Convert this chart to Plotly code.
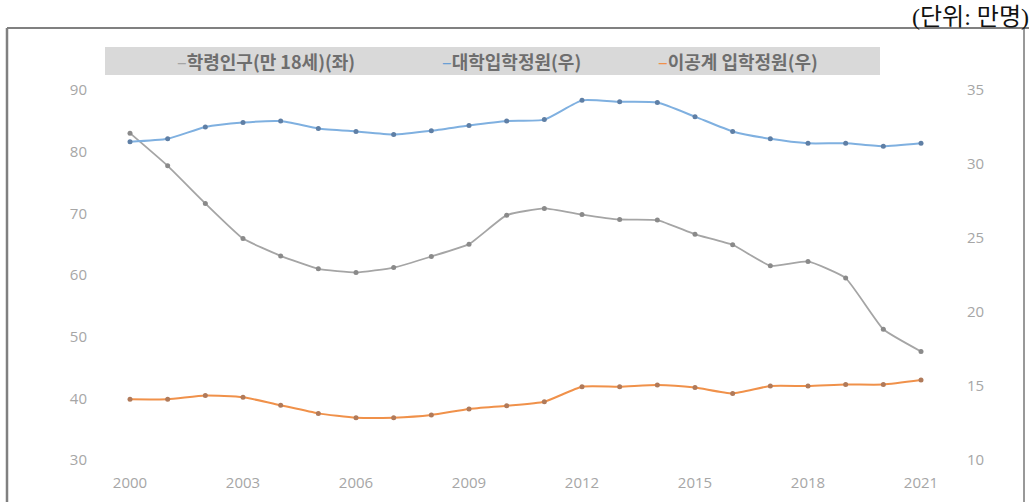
import plotly.graph_objects as go

years = list(range(2000, 2022))
pop18 = [83.0, 77.7, 71.6, 65.9, 63.1, 61.0, 60.4, 61.2, 63.0, 65.0, 69.7, 70.8,
         69.8, 69.0, 68.9, 66.6, 64.9, 61.5, 62.2, 59.5, 51.2, 47.6]
univ_quota = [31.5, 31.7, 32.5, 32.8, 32.9, 32.4, 32.2, 32.0, 32.25, 32.6, 32.9, 33.0,
              34.3, 34.2, 34.15, 33.2, 32.2, 31.7, 31.4, 31.4, 31.2, 31.4]
stem_quota = [14.1, 14.1, 14.35, 14.24, 13.7, 13.15, 12.86, 12.86, 13.04, 13.45, 13.67, 13.94,
              14.95, 14.95, 15.07, 14.9, 14.5, 15.0, 15.0, 15.1, 15.1, 15.4]
x_ticks = [2000, 2003, 2006, 2009, 2012, 2015, 2018, 2021]
names = ["학령인구(만 18세)(좌)", "대학입학정원(우)", "이공계 입학정원(우)"]
unit_label = "(단위: 만명)"

W, H = 1034, 502
L, R, T, B = 96, 958, 90, 460
X0PX, X1PX = 130, 921
ppy = (X1PX - X0PX) / (years[-1] - years[0])
xr = [years[0] - (X0PX - L) / ppy, years[-1] + (R - X1PX) / ppy]

def px_x(p):
    return (p - L) / (R - L)

def px_y(p):
    return (B - p) / (B - T)

fig = go.Figure()
fig.add_trace(go.Scatter(
    x=years, y=pop18, name=names[0], mode="lines+markers",
    line=dict(color="#a5a5a5", width=1.8, shape="spline", smoothing=0.4),
    marker=dict(color="#8a8a8a", size=5), yaxis="y", showlegend=False))
fig.add_trace(go.Scatter(
    x=years, y=univ_quota, name=names[1], mode="lines+markers",
    line=dict(color="#7fb0e0", width=2, shape="spline", smoothing=0.5),
    marker=dict(color="#5f7fa5", size=5), yaxis="y2", showlegend=False))
fig.add_trace(go.Scatter(
    x=years, y=stem_quota, name=names[2], mode="lines+markers",
    line=dict(color="#f0914a", width=2, shape="spline", smoothing=0.5),
    marker=dict(color="#b07a5a", size=5), yaxis="y2", showlegend=False))

tickfont = dict(family="Open Sans, sans-serif", size=15, color="#a6a6a6")

fig.update_layout(
    width=W, height=H,
    margin=dict(l=L, r=W - R, t=T, b=H - B, autoexpand=False),
    paper_bgcolor="white", plot_bgcolor="white",
    xaxis=dict(range=xr, tickvals=x_ticks, showgrid=False, zeroline=False,
               showline=False, ticks="", tickfont=tickfont, ticklabelstandoff=12),
    yaxis=dict(range=[30, 90], dtick=10, showgrid=False, zeroline=False,
               showline=False, ticks="", tickfont=tickfont, ticklabelstandoff=8),
    yaxis2=dict(range=[10, 35], dtick=5, overlaying="y", side="right", showgrid=False,
                zeroline=False, showline=False, ticks="", tickfont=tickfont,
                ticklabelstandoff=8),
    showlegend=False,
)

shapes = []
# legend band
shapes.append(dict(type="rect", xref="paper", yref="paper",
                   x0=px_x(105), x1=px_x(880), y0=px_y(75), y1=px_y(47),
                   fillcolor="#d9d9d9", line=dict(width=0), layer="below"))
# outer frame
shapes.append(dict(type="line", xref="paper", yref="paper",
                   x0=px_x(7), x1=px_x(1029), y0=px_y(28), y1=px_y(28),
                   line=dict(color="#808080", width=2)))
shapes.append(dict(type="line", xref="paper", yref="paper",
                   x0=px_x(7), x1=px_x(7), y0=px_y(28), y1=px_y(510),
                   line=dict(color="#808080", width=2.5)))
shapes.append(dict(type="line", xref="paper", yref="paper",
                   x0=px_x(1024), x1=px_x(1024), y0=px_y(28), y1=px_y(510),
                   line=dict(color="#333333", width=1)))
fig.update_layout(shapes=shapes)

legend_colors = ["#a5a5a5", "#6a9fd5", "#f0914a"]
legend_x = [175, 440, 656]
annotations = []
for nm, col, lx in zip(names, legend_colors, legend_x):
    annotations.append(dict(
        xref="paper", yref="paper", x=px_x(lx), y=px_y(61), xanchor="left", yanchor="middle",
        showarrow=False,
        text=f'<span style="color:{col}">–</span><b>{nm}</b>',
        font=dict(family="Noto Sans CJK KR, sans-serif", size=18, color="#6e6e6e")))
annotations.append(dict(
    xref="paper", yref="paper", x=px_x(1031), y=px_y(17), xanchor="right", yanchor="middle",
    showarrow=False, text=unit_label,
    font=dict(family="Liberation Serif, Noto Sans CJK KR, serif", size=24, color="#111111")))
fig.update_layout(annotations=annotations)

fig.write_html("out.html")
